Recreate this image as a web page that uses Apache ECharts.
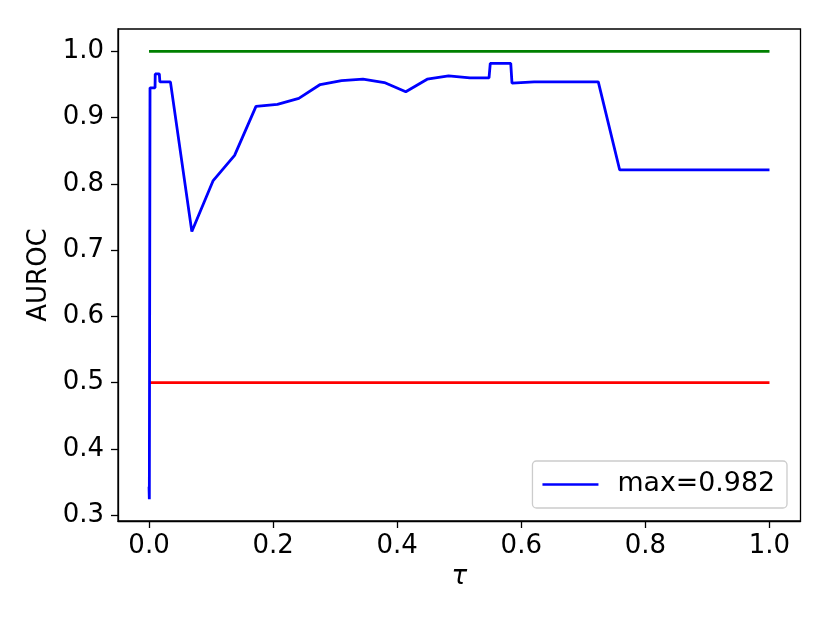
<!DOCTYPE html>
<html>
<head>
<meta charset="utf-8">
<script src="https://cdn.jsdelivr.net/npm/echarts@6/dist/echarts.min.js"></script>
<style>html,body{margin:0;padding:0;background:#fff;}#c{width:830px;height:623px;}</style>
</head>
<body>
<div id="c"></div>
<script>
var tau = [0, 0.0005, 0.0016, 0.0097, 0.0100, 0.0166, 0.0175, 0.0345, 0.0690, 0.1034, 0.1379, 0.1724, 0.2069, 0.2414, 0.2759, 0.3103, 0.3448, 0.3793, 0.4138, 0.4483, 0.4828, 0.5172, 0.5480, 0.5500, 0.5830, 0.5850, 0.6207, 0.6552, 0.6897, 0.7241, 0.7586, 0.8621, 1.0];
var auroc = [0.343, 0.324, 0.945, 0.945, 0.966, 0.966, 0.954, 0.954, 0.728, 0.805, 0.843, 0.917, 0.920, 0.929, 0.950, 0.956, 0.958, 0.953, 0.939, 0.958, 0.963, 0.960, 0.960, 0.982, 0.982, 0.952, 0.954, 0.954, 0.954, 0.954, 0.821, 0.821, 0.821];
var refX = [0, 1];
var perfect = [1.0, 1.0];
var chance = [0.5, 0.5];
var xTicks = [0.0, 0.2, 0.4, 0.6, 0.8, 1.0];
var yTicks = [0.3, 0.4, 0.5, 0.6, 0.7, 0.8, 0.9, 1.0];
var legendLabel = 'max=0.982';

function zip(a, b) { return a.map(function (v, i) { return [v, b[i]]; }); }

var font = 'DejaVu Sans';
var fs = 26;
var chart = echarts.init(document.getElementById('c'), null, {renderer: 'canvas'});
chart.setOption({
  animation: false,
  backgroundColor: '#fff',
  textStyle: {fontFamily: font},
  grid: {left: 118, right: 29.5, top: 29, bottom: 102, show: true, borderColor: '#000', borderWidth: 1.3, backgroundColor: 'transparent'},
  xAxis: {
    type: 'value', min: -0.05, max: 1.05,
    name: 'τ', nameLocation: 'middle', nameGap: 43,
    nameTextStyle: {fontSize: fs, fontStyle: 'italic', color: '#000', fontFamily: font},
    axisLine: {show: true, onZero: false, lineStyle: {color: '#000', width: 1.3}},
    axisTick: {show: true, length: 7, customValues: xTicks, lineStyle: {color: '#000', width: 1.3}},
    axisLabel: {customValues: xTicks, margin: 12, fontSize: fs, color: '#000', fontFamily: font,
      formatter: function (v) { return v.toFixed(1); }},
    splitLine: {show: false}
  },
  yAxis: {
    type: 'value', min: 0.2911, max: 1.0338,
    name: 'AUROC', nameLocation: 'middle', nameGap: 64,
    nameTextStyle: {fontSize: fs, color: '#000', fontFamily: font},
    axisLine: {show: true, onZero: false, lineStyle: {color: '#000', width: 1.3}},
    axisTick: {show: true, length: 7, customValues: yTicks, lineStyle: {color: '#000', width: 1.3}},
    axisLabel: {customValues: yTicks, margin: 14, fontSize: fs, color: '#000', fontFamily: font,
      formatter: function (v) { return v.toFixed(1); }},
    splitLine: {show: false}
  },
  legend: {
    data: [legendLabel],
    right: 43, bottom: 115,
    orient: 'vertical',
    icon: 'rect', itemWidth: 56, itemHeight: 2.6,
    padding: [10, 12, 10, 10],
    borderColor: '#cccccc', borderWidth: 1.3, borderRadius: 4,
    backgroundColor: 'rgba(255,255,255,0.8)',
    textStyle: {fontSize: 26.8, color: '#000', fontFamily: font, padding: [0, 0, 0, 14]}
  },
  series: [
    {name: 'perfect', type: 'line', data: zip(refX, perfect), showSymbol: false, symbol: 'none',
      lineStyle: {color: '#008000', width: 2.6}, itemStyle: {color: '#008000'}, z: 2},
    {name: 'chance', type: 'line', data: zip(refX, chance), showSymbol: false, symbol: 'none',
      lineStyle: {color: '#ff0000', width: 2.6}, itemStyle: {color: '#ff0000'}, z: 2},
    {name: legendLabel, type: 'line', data: zip(tau, auroc), showSymbol: false, symbol: 'none',
      lineStyle: {color: '#0000ff', width: 2.8}, itemStyle: {color: '#0000ff'}, z: 3}
  ]
});
</script>
</body>
</html>
